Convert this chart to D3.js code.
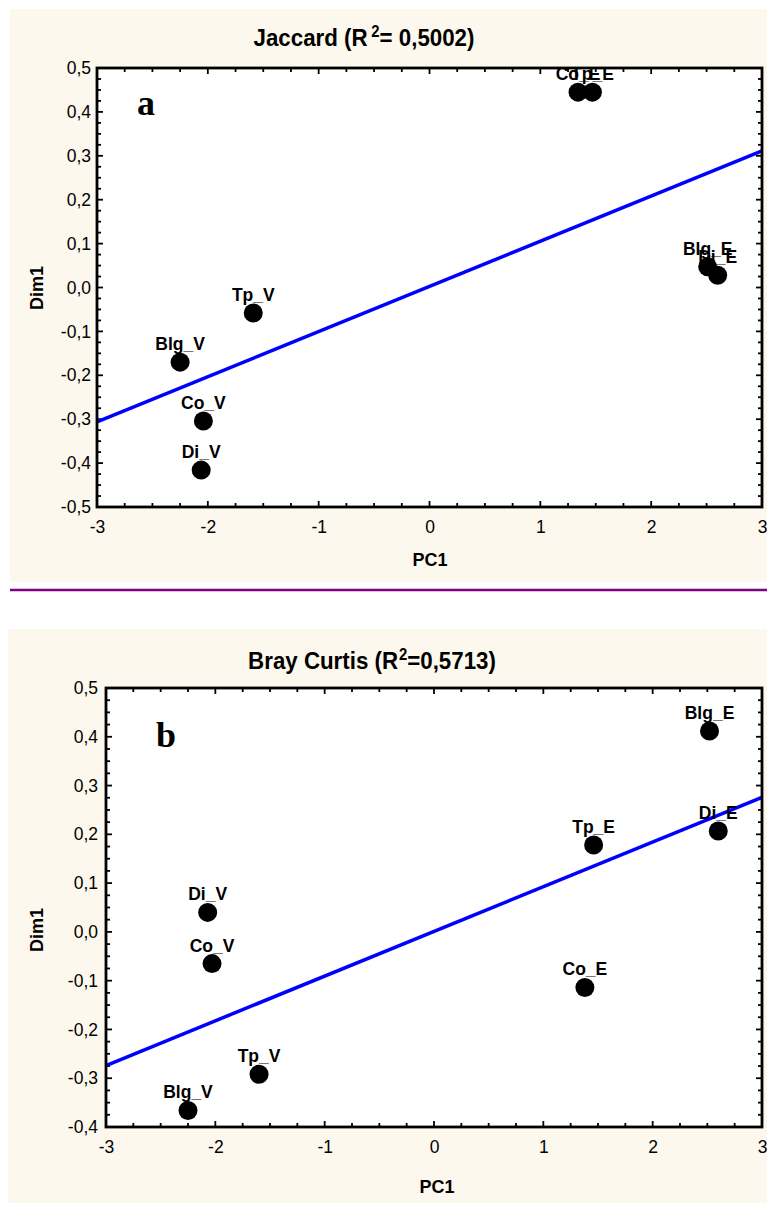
<!DOCTYPE html>
<html><head><meta charset="utf-8">
<script src="https://cdn.jsdelivr.net/npm/d3@7"></script>
<style>
html,body{margin:0;padding:0;background:#fff;}
svg{display:block;}
text{font-family:"Liberation Sans",Arial,sans-serif;}
text.letter{font-family:"Liberation Serif","DejaVu Serif","Times New Roman",serif;}
</style></head>
<body>
<script>
// ---- Data ----
const labelsA = ["Co_E","Tp_E","Blg_E","Di_E","Tp_V","Blg_V","Co_V","Di_V"];
const pc1A    = [1.34, 1.47, 2.51, 2.60, -1.59, -2.25, -2.04, -2.06];
const dim1A   = [0.445, 0.445, 0.047, 0.028, -0.058, -0.17, -0.304, -0.416];
const fitXA   = [-3, 3];
const fitYA   = [-0.306, 0.311];

const labelsB = ["Blg_E","Tp_E","Di_E","Co_E","Di_V","Co_V","Tp_V","Blg_V"];
const pc1B    = [2.52, 1.46, 2.60, 1.38, -2.07, -2.03, -1.60, -2.25];
const dim1B   = [0.412, 0.178, 0.207, -0.114, 0.04, -0.065, -0.292, -0.366];
const fitXB   = [-3, 3];
const fitYB   = [-0.274, 0.276];

const xTicks  = [-3, -2, -1, 0, 1, 2, 3];
const yTicksA = [-0.5,-0.4,-0.3,-0.2,-0.1,0,0.1,0.2,0.3,0.4,0.5];
const yTicksB = [-0.4,-0.3,-0.2,-0.1,0,0.1,0.2,0.3,0.4,0.5];

const W = 767, H = 1206;
const svg = d3.select("body").append("svg").attr("width", W).attr("height", H);

const loc = d3.formatLocale({decimal:",", thousands:".", grouping:[3], currency:["",""], minus:"-"});
const fy = loc.format(".1f");
const fx = loc.format("d");

function panel(cfg){
  const g = svg.append("g");
  g.append("rect").attr("x", cfg.bg[0]).attr("y", cfg.bg[1]).attr("width", cfg.bg[2]).attr("height", cfg.bg[3]).attr("fill", "#fdf8ed");
  const x = d3.scaleLinear().domain([-3, 3]).range([cfg.plot[0], cfg.plot[1]]);
  const y = d3.scaleLinear().domain(cfg.ydom).range([cfg.plot[3], cfg.plot[2]]);
  g.append("rect").attr("x", x(-3)).attr("y", y(cfg.ydom[1])).attr("width", x(3)-x(-3)).attr("height", y(cfg.ydom[0])-y(cfg.ydom[1])).attr("fill", "#fff");

  const xMinor = d3.range(-3, 3.0001, 0.25);
  const yMinor = d3.range(cfg.ydom[0], cfg.ydom[1]+0.0001, 0.025);
  const tk = g.append("g").attr("stroke", "#000").attr("stroke-width", 1.8);
  xMinor.forEach(v => {
    const major = Math.abs(v - Math.round(v)) < 1e-6;
    const L = major ? 6 : 4;
    tk.append("line").attr("x1", x(v)).attr("x2", x(v)).attr("y1", y(cfg.ydom[0])).attr("y2", y(cfg.ydom[0]) - L);
    tk.append("line").attr("x1", x(v)).attr("x2", x(v)).attr("y1", y(cfg.ydom[1])).attr("y2", y(cfg.ydom[1]) + L);
  });
  yMinor.forEach(v => {
    const major = Math.abs(v*10 - Math.round(v*10)) < 1e-6;
    const L = major ? 6 : 4;
    tk.append("line").attr("y1", y(v)).attr("y2", y(v)).attr("x1", x(-3)).attr("x2", x(-3) + L);
    tk.append("line").attr("y1", y(v)).attr("y2", y(v)).attr("x1", x(3)).attr("x2", x(3) - L);
  });

  const line = d3.line().x(d => x(d[0])).y(d => y(d[1]));
  g.append("path").datum(cfg.fitX.map((v,i) => [v, cfg.fitY[i]]))
    .attr("d", line).attr("stroke", "#0000ff").attr("stroke-width", 3.5).attr("fill", "none");

  const pts = cfg.labels.map((l,i) => ({l, px: cfg.pc1[i], py: cfg.dim1[i]}));
  g.selectAll("circle.pt").data(pts).enter().append("circle")
    .attr("cx", d => x(d.px)).attr("cy", d => y(d.py)).attr("r", 9.5).attr("fill", "#000");
  g.selectAll("text.pl").data(pts).enter().append("text")
    .attr("x", d => x(d.px)).attr("y", d => y(d.py) - 12)
    .attr("text-anchor", "middle")
    .attr("font-weight", "bold").attr("font-size", 17.5).attr("fill", "#000").text(d => d.l);

  g.append("rect").attr("x", x(-3)).attr("y", y(cfg.ydom[1])).attr("width", x(3)-x(-3)).attr("height", y(cfg.ydom[0])-y(cfg.ydom[1]))
    .attr("fill", "none").attr("stroke", "#000").attr("stroke-width", 2.8);

  const xa = g.append("g").attr("transform", `translate(0,${y(cfg.ydom[0])})`)
    .call(d3.axisBottom(x).tickValues(xTicks).tickFormat(fx).tickSize(0).tickPadding(14));
  xa.select(".domain").remove();
  xa.selectAll("text").attr("font-size", 17.5).attr("fill", "#000").attr("font-family", null);
  const ya = g.append("g").attr("transform", `translate(${x(-3)},0)`)
    .call(d3.axisLeft(y).tickValues(cfg.yTicks).tickFormat(fy).tickSize(0).tickPadding(cfg.yPad));
  ya.select(".domain").remove();
  ya.selectAll("text").attr("font-size", 17.5).attr("fill", "#000").attr("font-family", null);

  g.append("text").attr("x", cfg.pc1Pos[0]).attr("y", cfg.pc1Pos[1])
    .attr("text-anchor", "middle").attr("font-weight", "bold").attr("font-size", 18).text("PC1");
  g.append("text").attr("transform", `translate(${cfg.dimPos[0]},${cfg.dimPos[1]}) rotate(-90)`)
    .attr("text-anchor", "middle").attr("font-weight", "bold").attr("font-size", 18).text("Dim1");

  const t = g.append("text").attr("transform", `translate(${cfg.titlePos[0]},${cfg.titlePos[1]}) scale(0.93,1)`)
    .attr("text-anchor", "middle").attr("font-weight", "bold").attr("font-size", 24);
  t.append("tspan").text(cfg.title[0]);
  t.append("tspan").attr("dx", cfg.title[3]).attr("dy", -9).attr("font-size", 16).text(cfg.title[1]);
  t.append("tspan").attr("dy", 9).text(cfg.title[2]);

  g.append("text").attr("class", "letter").attr("x", cfg.letterPos[0]).attr("y", cfg.letterPos[1])
    .attr("font-weight", "bold").attr("font-size", 36).text(cfg.letter);
}

panel({
  bg: [10, 9, 757, 573], plot: [97, 762, 68, 507], ydom: [-0.5, 0.5], yTicks: yTicksA, yPad: 6,
  labels: labelsA, pc1: pc1A, dim1: dim1A, fitX: fitXA, fitY: fitYA,
  pc1Pos: [430, 566], dimPos: [43, 288], titlePos: [364, 46],
  title: ["Jaccard (R", "2", "= 0,5002)", 4], letterPos: [137, 115], letter: "a"
});

svg.append("line").attr("x1", 10).attr("x2", 767).attr("y1", 590).attr("y2", 590)
  .attr("stroke", "#800080").attr("stroke-width", 2.5);

panel({
  bg: [8, 629, 759, 574], plot: [106, 762, 688, 1127], ydom: [-0.4, 0.5], yTicks: yTicksB, yPad: 8,
  labels: labelsB, pc1: pc1B, dim1: dim1B, fitX: fitXB, fitY: fitYB,
  pc1Pos: [437, 1193], dimPos: [43, 930], titlePos: [372, 669],
  title: ["Bray Curtis (R", "2", "=0,5713)", 1], letterPos: [156, 747], letter: "b"
});
</script>
</body></html>
